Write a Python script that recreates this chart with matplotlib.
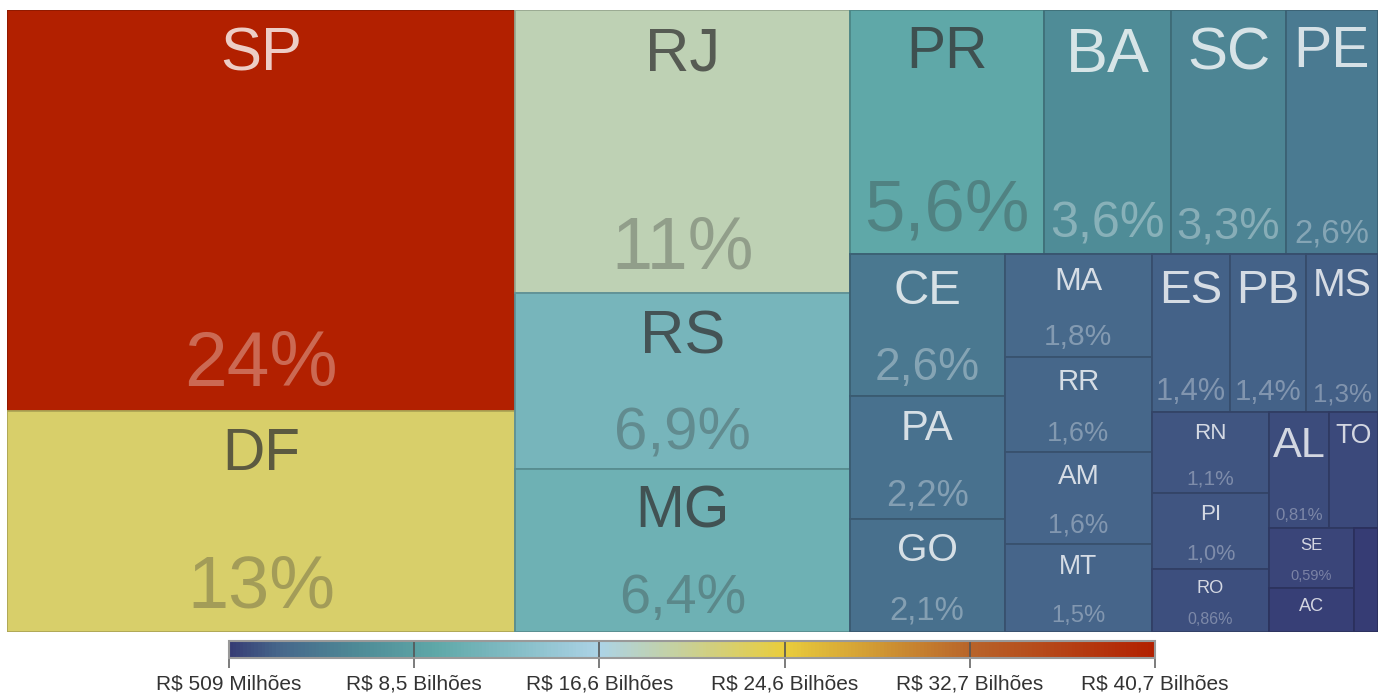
import matplotlib
matplotlib.use('Agg')
import matplotlib.pyplot as plt
from matplotlib.patches import Rectangle
from matplotlib.colors import LinearSegmentedColormap, Normalize, to_rgb
from matplotlib.cm import ScalarMappable
import numpy as np

plt.rcParams['font.family'] = ['Liberation Sans', 'DejaVu Sans']

# ---------------- data ----------------
STATES = ['SP', 'DF', 'RJ', 'RS', 'MG', 'PR', 'BA', 'SC', 'PE', 'CE', 'PA', 'GO',
          'MA', 'RR', 'AM', 'MT', 'ES', 'PB', 'MS', 'RN', 'PI', 'RO', 'AL', 'TO',
          'SE', 'AC', 'AP']
# values in R$ billions (share x total)
VALUES_BN = [40.7, 22.4, 18.9, 11.8, 10.88, 9.5, 6.2, 5.6, 4.5, 4.4, 3.8, 3.5,
             3.0, 2.8, 2.7, 2.6, 2.45, 2.4, 2.25, 1.9, 1.78, 1.47, 1.38, 1.14,
             1.01, 0.75, 0.509]

# nesting of the treemap (rows / columns), sizes come from the values
LAYOUT = ('row', [
    ('col', ['SP', 'DF']),
    ('col', ['RJ', 'RS', 'MG']),
    ('col', [
        ('row', ['PR', 'BA', 'SC', 'PE']),
        ('row', [
            ('col', ['CE', 'PA', 'GO']),
            ('col', ['MA', 'RR', 'AM', 'MT']),
            ('col', [
                ('row', ['ES', 'PB', 'MS']),
                ('row', [
                    ('col', ['RN', 'PI', 'RO']),
                    ('col', [
                        ('row', ['AL', 'TO']),
                        ('row', [('col', ['SE', 'AC']), 'AP']),
                    ]),
                ]),
            ]),
        ]),
    ]),
])

N_TICKS = 6

# ---------------- style ----------------
# colour scale stops (value in R$ bn -> colour)
CMAP_STOPS = [0.509, 2.6, 6.0, 9.5, 16.6, 24.6, 32.7, 40.7]
CMAP_COLORS = ['#363c74', '#46668a', '#4e8a96', '#5fa8a8', '#acd3e6', '#e9cd3c',
               '#b8642a', '#b22000']
# label sizes (px, cap height)
NAME_CAP = {'SP': 44, 'DF': 42, 'RJ': 44, 'RS': 44, 'MG': 42, 'PR': 42, 'BA': 45,
            'SC': 43, 'PE': 41, 'CE': 35, 'PA': 30, 'GO': 28, 'MA': 23, 'RR': 21,
            'AM': 20, 'MT': 19, 'ES': 34, 'PB': 34, 'MS': 28, 'RN': 16, 'PI': 16,
            'RO': 13, 'AL': 31, 'TO': 19, 'SE': 12, 'AC': 13}
PCT_CAP = {'SP': 55, 'DF': 53, 'RJ': 53, 'RS': 43, 'MG': 40, 'PR': 52, 'BA': 36,
           'SC': 32.5, 'PE': 23.5, 'CE': 33, 'PA': 26, 'GO': 23.5, 'MA': 21.5,
           'RR': 19.5, 'AM': 19, 'MT': 17, 'ES': 22, 'PB': 21, 'MS': 18.5,
           'RN': 15, 'PI': 15.5, 'RO': 11.5, 'AL': 12, 'SE': 10.5}
LEGEND_FONT_PT = 15

W_PX, H_PX, DPI = 1382, 693, 100
PLOT_L, PLOT_T, PLOT_R, PLOT_B = 7, 10, 1378, 632
CB_L, CB_R, CB_T, CB_B = 229, 1155, 641, 658

vmin, vmax = min(VALUES_BN), max(VALUES_BN)
norm = Normalize(vmin, vmax)
cmap = LinearSegmentedColormap.from_list(
    'brl', list(zip([(s - vmin) / (vmax - vmin) for s in CMAP_STOPS], CMAP_COLORS)))

fig = plt.figure(figsize=(W_PX / DPI, H_PX / DPI), dpi=DPI)
fig.patch.set_facecolor('white')
W = PLOT_R - PLOT_L
H = PLOT_B - PLOT_T
ax = fig.add_axes([PLOT_L / W_PX, 1 - PLOT_B / H_PX, W / W_PX, H / H_PX])
ax.set_xlim(0, W)
ax.set_ylim(H, 0)
ax.axis('off')

value_of = dict(zip(STATES, VALUES_BN))
grand_total = sum(VALUES_BN)


def node_total(node):
    if isinstance(node, str):
        return value_of[node]
    return sum(node_total(c) for c in node[1])


rects = {}


def layout(node, x, y, w, h):
    if isinstance(node, str):
        rects[node] = (x, y, w, h)
        return
    orient, kids = node
    tot = node_total(node)
    off = 0.0
    for k in kids:
        f = node_total(k) / tot
        if orient == 'row':
            layout(k, x + off, y, w * f, h)
            off += w * f
        else:
            layout(k, x, y + off, w, h * f)
            off += h * f


layout(LAYOUT, 0, 0, W, H)


def fmt_pct(p):
    if p >= 10:
        s = f"{p:.0f}"
    elif p >= 1:
        s = f"{p:.1f}"
    else:
        s = f"{p:.2f}"
    return s.replace('.', ',') + '%'


def cap_to_pt(cap):
    return cap / 0.716 * 72 / DPI


for st in STATES:
    x, y, w, h = rects[st]
    face = np.array(to_rgb(cmap(norm(value_of[st]))))
    edge = face * 0.8
    ax.add_patch(Rectangle((x, y), w, h, facecolor=face, edgecolor=edge,
                           linewidth=1.3))
    bright = 255 * (0.299 * face[0] + 0.587 * face[1] + 0.114 * face[2])
    if bright > 135:
        tc, a_name, a_pct = '#333333', 0.75, 0.32
    else:
        tc, a_name, a_pct = '#ffffff', 0.78, 0.33
    cx = x + w / 2
    if st in NAME_CAP:
        cap = NAME_CAP[st]
        ax.text(cx, y + 8 + 0.2 * cap + cap, st, ha='center', va='baseline',
                fontsize=cap_to_pt(cap), color=tc, alpha=a_name)
    if st in PCT_CAP:
        cap = PCT_CAP[st]
        ax.text(cx, y + h - (3 + 0.4 * cap), fmt_pct(100 * value_of[st] / grand_total),
                ha='center', va='baseline', fontsize=cap_to_pt(cap), color=tc,
                alpha=a_pct)

# ---------------- colour legend ----------------
cax = fig.add_axes([CB_L / W_PX, 1 - CB_B / H_PX, (CB_R - CB_L) / W_PX,
                    (CB_B - CB_T) / H_PX])
cb = fig.colorbar(ScalarMappable(norm=norm, cmap=cmap), cax=cax,
                  orientation='horizontal')
ticks = np.linspace(vmin, vmax, N_TICKS)


def fmt_money(v):
    if v < 1:
        return f"R$ {v * 1000:.0f} Milhões"
    return f"R$ {v:.1f} Bilhões".replace('.', ',')


cb.set_ticks(ticks)
cb.set_ticklabels([fmt_money(t) for t in ticks])
cax.tick_params(axis='x', length=7, width=1.2, color='#666666', pad=5,
                labelsize=LEGEND_FONT_PT, labelcolor='#333333')
for t in ticks[1:-1]:
    cax.axvline(t, color='#555555', lw=1.2)
cb.outline.set_edgecolor('#999999')
cb.outline.set_linewidth(1.5)

fig.savefig('out.png', dpi=DPI)
